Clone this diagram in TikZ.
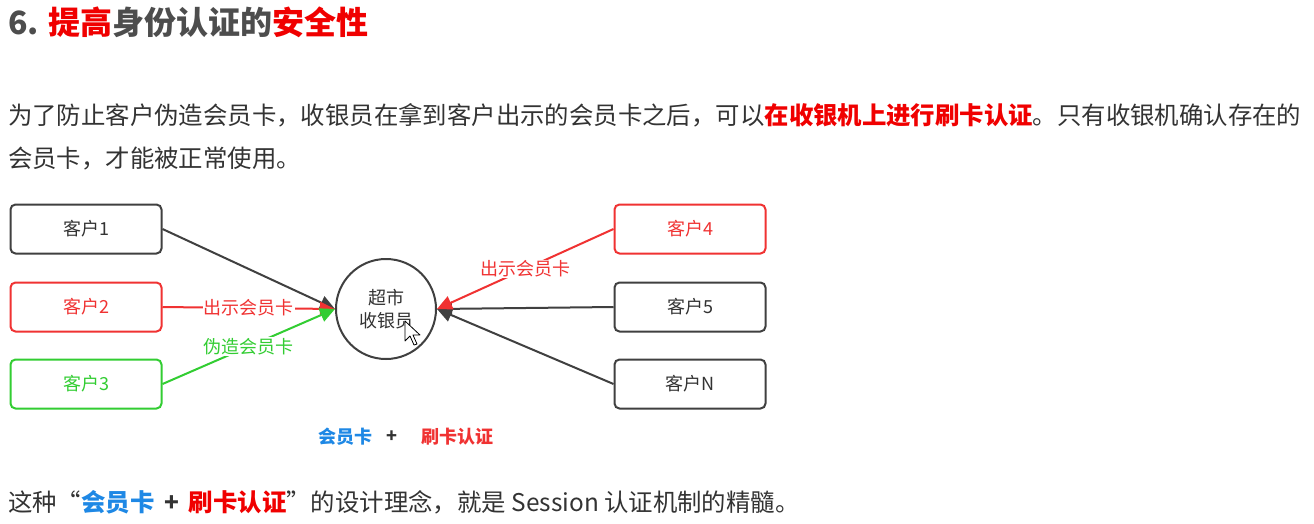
\documentclass[tikz,border=0pt]{standalone}
\usepackage{fontspec}
\setmainfont{Noto Sans CJK SC}
\usetikzlibrary{arrows.meta}
\definecolor{txt}{RGB}{51,51,51}
\definecolor{ttl}{RGB}{77,77,77}
\definecolor{hred}{RGB}{240,0,0}
\definecolor{dred}{RGB}{240,50,50}
\definecolor{dgreen}{RGB}{50,205,50}
\definecolor{dgray}{RGB}{64,64,64}
\definecolor{hblue}{RGB}{30,136,229}
\tikzset{
  body/.style={anchor=base west, inner sep=0pt, text=txt, font=\fontsize{24.4}{30}\selectfont},
  cbox/.style={draw=#1, line width=2pt, rounded corners=5pt, minimum width=151pt, minimum height=49pt, inner sep=0pt, font=\fontsize{18}{22}\selectfont},
  conn/.style={draw=#1, line width=2pt, -{Triangle[length=15pt,width=14pt,fill=#1]}},
  lbl/.style={fill=white, inner sep=1pt, font=\fontsize{18}{22}\selectfont},
}
\begin{document}
\begin{tikzpicture}[x=1pt,y=-1pt]
\useasboundingbox[fill=white] (0,0) rectangle (1314,523);
% title
\node[anchor=base west, inner sep=0pt, font=\fontsize{32}{38}\selectfont\bfseries, text=ttl] (title) at (8,34) {6. {\color{hred}提高}身份认证的{\color{hred}安全性}};
% paragraph
\node[body] (p1) at (8,124) {为了防止客户伪造会员卡，收银员在拿到客户出示的会员卡之后，可以{\bfseries\color{hred}在收银机上进行刷卡认证}。只有收银机确认存在的};
\node[body] (p2) at (8,167) {会员卡，才能被正常使用。};
% diagram
\node[cbox=dgray, text=txt] (c1) at (86,229) {客户1};
\node[cbox=dred, text=dred] (c2) at (86,307) {客户2};
\node[cbox=dgreen, text=dgreen] (c3) at (86,384) {客户3};
\node[cbox=dred, text=dred] (c4) at (690,229) {客户4};
\node[cbox=dgray, text=txt] (c5) at (690,307) {客户5};
\node[cbox=dgray, text=txt] (cn) at (690,384) {客户N};
\node[circle, draw=dgray, line width=2pt, minimum size=100pt, inner sep=0pt, align=center, text=txt, font=\fontsize{18}{23}\selectfont] (cash) at (386,309) {超市\\收银员};
\draw[conn=dgray] (c1.east) -- (cash.west);
\draw[conn=dred] (c2.east) -- node[lbl, text=dred] {出示会员卡} (cash.west);
\draw[conn=dgreen] (c3.east) -- node[lbl, text=dgreen] {伪造会员卡} (cash.west);
\draw[conn=dgray] (c5.west) -- (cash.east);
\draw[conn=dgray] (cn.west) -- (cash.east);
\draw[conn=dred] (c4.west) -- node[lbl, text=dred] {出示会员卡} (cash.east);
% mouse cursor
\draw[black, line width=0.8pt, fill=white, line join=round] (405,321) -- (405,341) -- (410,336) -- (414,345) -- (417,344) -- (413,335) -- (420,335) -- cycle;
% formula
\node[font=\fontsize{18}{22}\selectfont\bfseries, text=hblue] (f1) at (345,437) {会员卡};
\node[font=\fontsize{18}{22}\selectfont\bfseries, text=txt] (f2) at (392,437) {+};
\node[font=\fontsize{18}{22}\selectfont\bfseries, text=dred] (f3) at (457,437) {刷卡认证};
% closing sentence
\node[body] (p3) at (8,511) {这种“{\bfseries\color{hblue}会员卡}\hspace{0.4em}{\bfseries +}\hspace{0.4em}{\bfseries\color{hred}刷卡认证}”的设计理念，就是 Session 认证机制的精髓。};
\end{tikzpicture}
\end{document}
